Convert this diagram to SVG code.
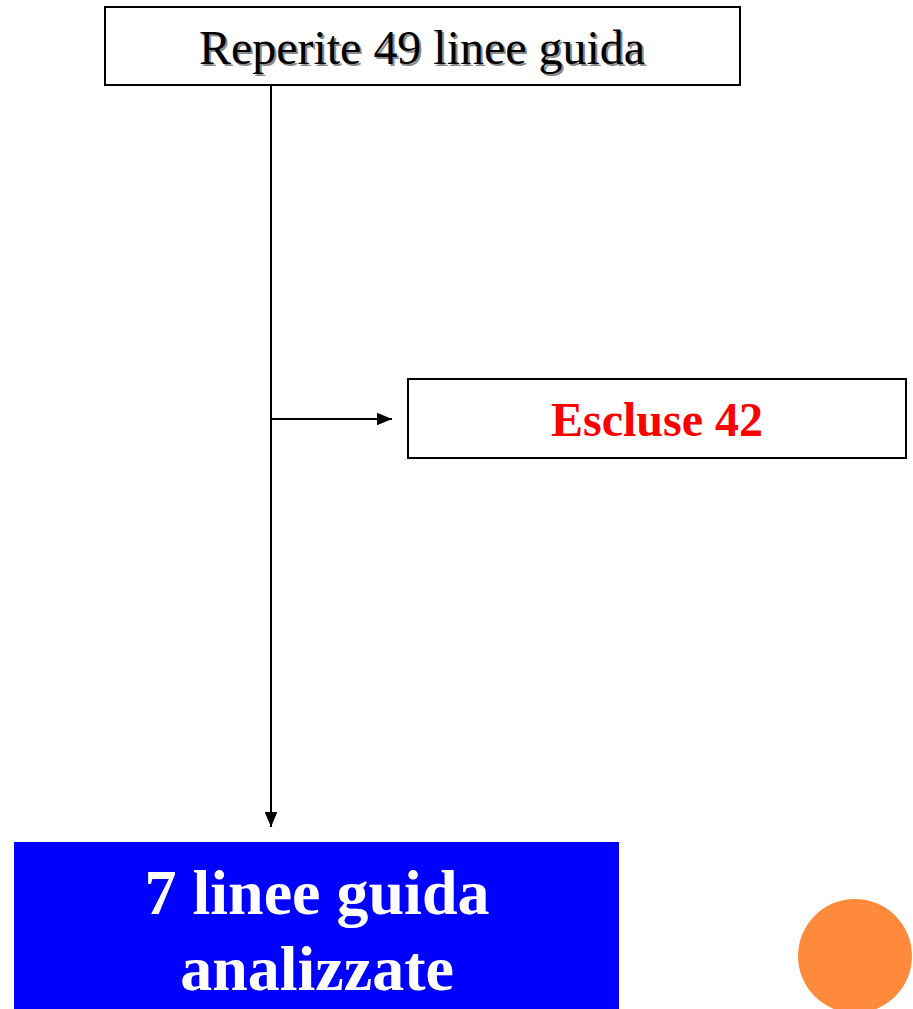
<svg xmlns="http://www.w3.org/2000/svg" width="913" height="1009" viewBox="0 0 913 1009">
<defs>
<style>
.box{fill:#fff;stroke:#000;stroke-width:2}
.conn{stroke:#000;stroke-width:2;fill:none}
.serif{font-family:"Liberation Serif","Times New Roman",serif}
</style>
<marker id="arrBig" viewBox="0 0 10 10" refX="10" refY="5" markerWidth="15" markerHeight="15" markerUnits="userSpaceOnUse" orient="auto">
<path d="M0,0.8 L10,5 L0,9.2 z" fill="#000"/>
</marker>
</defs>
<rect width="913" height="1009" fill="#fff"/>
<g id="connectors">
<line class="conn" x1="271" y1="85" x2="271" y2="827" marker-end="url(#arrBig)"/>
<line class="conn" x1="271" y1="419" x2="392" y2="419" marker-end="url(#arrBig)"/>
</g>
<g id="node-reperite">
<rect class="box" x="105" y="7" width="635" height="78"/>
<text class="serif" x="424" y="66" font-size="48" text-anchor="middle" fill="#8a8a8a" textLength="446" lengthAdjust="spacingAndGlyphs">Reperite 49 linee guida</text>
<text class="serif" x="422" y="64" font-size="48" text-anchor="middle" fill="#000" textLength="446" lengthAdjust="spacingAndGlyphs">Reperite 49 linee guida</text>
</g>
<g id="node-escluse">
<rect class="box" x="408" y="379" width="498" height="79"/>
<text class="serif" x="657" y="436" font-size="48" font-weight="bold" text-anchor="middle" fill="#f00">Escluse 42</text>
</g>
<g id="node-analizzate">
<rect x="14" y="842" width="605" height="167" fill="#0000ff"/>
<text class="serif" x="317" y="914" font-size="64" font-weight="bold" text-anchor="middle" fill="#fff">7 linee guida</text>
<text class="serif" x="317" y="990" font-size="64" font-weight="bold" text-anchor="middle" fill="#fff">analizzate</text>
</g>
<g id="decor">
<ellipse cx="855" cy="956" rx="57" ry="57" fill="#ff8a3c"/>
</g>
</svg>
